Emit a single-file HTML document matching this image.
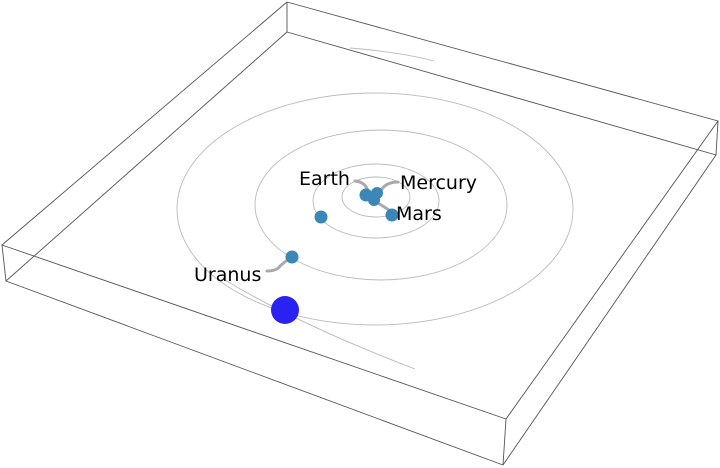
<!DOCTYPE html>
<html><head><style>
html,body{margin:0;padding:0;background:#fff;}
svg{display:block;}
text{font-family:"DejaVu Sans","Liberation Sans",sans-serif;font-size:19px;fill:#000;}
</style></head><body>
<svg width="720" height="468" viewBox="0 0 720 468" xmlns="http://www.w3.org/2000/svg">
<g stroke="#555" stroke-width="0.9" fill="none">
<polyline points="287,2 718,121 506,419 2,245 287,2"/>
<polyline points="287,32 716,155 503,465 6,281 287,32"/>
<line x1="287" y1="2" x2="287" y2="32"/>
<line x1="718" y1="121" x2="716" y2="155"/>
<line x1="506" y1="419" x2="503" y2="465"/>
<line x1="2" y1="245" x2="6" y2="281"/>
</g>
<g stroke="#bbb" stroke-width="0.9" fill="none">
<ellipse cx="375" cy="209" rx="198" ry="116"/>
<ellipse cx="381" cy="205" rx="126" ry="75"/>
<ellipse cx="376" cy="201" rx="63" ry="37"/>
<ellipse cx="376" cy="197" rx="34" ry="20"/>
<path d="M225,280 Q300,325 415,369"/>
<path d="M350,48 Q400,52 434,61"/>
</g>
<g stroke="#aaa" stroke-width="3" fill="none" stroke-linecap="round">
<path d="M355,181 Q366,182 368,192"/>
<path d="M398,182 Q385,182 380,192"/>
<path d="M378,203 Q386,208 392,212"/>
<path d="M267,271 Q277,271 280,266 L286,261"/>
</g>
<g fill="#3a87b8">
<circle cx="366" cy="195" r="6.5"/>
<circle cx="377" cy="193" r="6"/>
<circle cx="374" cy="200" r="6"/>
<circle cx="392" cy="215" r="6.5"/>
<circle cx="321" cy="217" r="6.5"/>
<circle cx="292" cy="257" r="6.5"/>
</g>
<circle cx="285" cy="310" r="14" fill="#2a22f0"/>
<text x="299" y="185">Earth</text>
<text x="400" y="189">Mercury</text>
<text x="396" y="220">Mars</text>
<text x="194" y="281">Uranus</text>
</svg>
</body></html>
